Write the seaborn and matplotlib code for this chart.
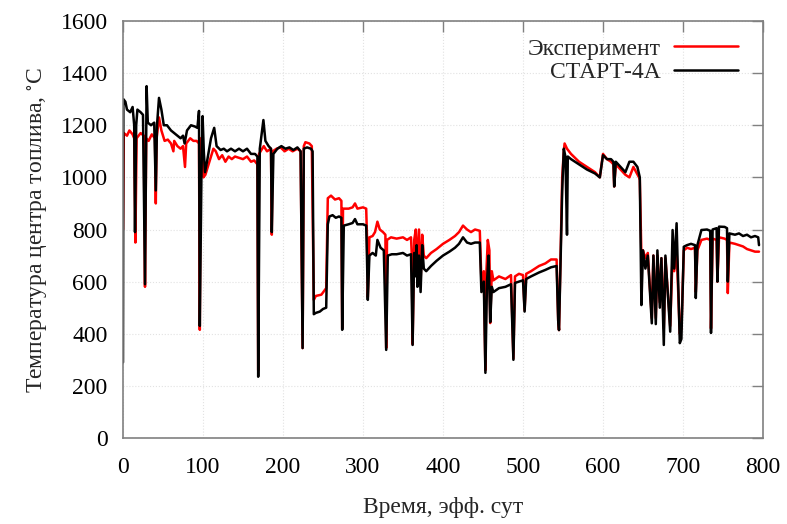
import matplotlib
matplotlib.use("Agg")
import matplotlib.pyplot as plt
import seaborn as sns
import pandas as pd

# ---- data ----
exp_t = [0, 1, 5, 8, 12, 14, 15.5, 17, 22, 26, 27.5, 29, 32, 36, 40, 41, 42, 45, 48, 52, 56, 60, 63, 64, 68,
         72, 75, 77.5, 79, 84, 88, 92, 95, 96, 97, 99, 100.5, 103, 107, 110, 113, 116, 120, 124, 128, 132, 136,
         140, 145, 150, 155, 160, 164, 168, 169, 170, 176, 180, 185, 186, 187, 192, 197, 202, 207, 212, 218,
         222, 224.5, 226, 228, 233, 236, 238.5, 241, 248, 254, 256, 260, 265, 270, 273, 274, 275, 282, 287,
         290, 293, 300, 304, 305, 306, 308, 312, 315, 318, 321, 325, 328, 329, 330, 335, 342, 350, 355, 360,
         361, 362, 364, 366, 368, 370, 372, 374, 376, 379, 385, 392, 400, 408, 415, 420, 425, 430, 435, 440,
         446, 448, 451, 453, 454, 456, 458, 459, 461, 463, 470, 478, 485, 488, 490, 495, 500, 502, 504, 510,
         520, 528, 535, 542, 544, 545, 549, 551, 552, 555, 560, 570, 580, 590, 596, 600, 605, 610, 613, 614,
         616, 622, 628, 633, 638, 645, 646, 648, 650, 653, 656, 661, 663, 666, 668, 671, 673, 676, 678, 684,
         687, 689, 692, 696, 698, 701, 705, 710, 715, 716, 718, 723, 730, 734, 735, 737, 742, 743, 745, 752,
         755, 756, 758, 765, 770, 775, 780, 785, 790, 795]
exp_v = [800, 1170, 1160, 1180, 1165, 1150, 750, 1150, 1170, 1160, 580, 1150, 1140, 1165, 1150, 900, 1150, 1230,
         1180, 1140, 1145, 1130, 1100, 1140, 1120, 1110, 1120, 1040, 1130, 1150, 1140, 1140, 1130, 415, 1150,
         1100, 1000, 1010, 1050, 1080, 1110, 1100, 1070, 1085, 1060, 1080, 1070, 1080, 1075, 1070, 1080, 1060,
         1065, 1050, 260, 1090, 1120, 1100, 1110, 780, 1100, 1110, 1115, 1100, 1110, 1100, 1110, 1100, 345,
         1120, 1135, 1130, 1120, 530, 545, 550, 575, 920, 930, 915, 920, 910, 420, 880, 880, 885, 900, 880,
         885, 880, 770, 540, 770, 775, 790, 830, 800, 790, 780, 345, 760, 770, 765, 770, 760, 770, 700, 360,
         760, 800, 650, 800, 600, 780, 700, 690, 710, 725, 745, 760, 775, 790, 815, 800, 790, 800, 795, 600,
         640, 260, 620, 760, 720, 441, 640, 605, 620, 610, 625, 305, 620, 630, 625, 490, 630, 640, 660, 670,
         685, 685, 450, 414, 1000, 1100, 1130, 1110, 1090, 1060, 1040, 1020, 1000, 1090, 1070, 1060, 1050,
         965, 1050, 1030, 1010, 1000, 1040, 1000, 990, 700, 720, 690, 710, 460, 700, 460, 700, 520, 690, 420,
         690, 430, 700, 640, 720, 400, 420, 720, 730, 725, 730, 560, 720, 760, 765, 760, 420, 765, 760, 600,
         770, 765, 760, 556, 750, 745, 740, 735, 725, 720, 715, 715]

start_t = [0, 0.5, 3, 5, 9, 12, 14, 15, 16.5, 18, 22, 25, 27.5, 29.5, 31, 35, 39, 41, 42.5, 45, 48, 51, 55, 60,
           64, 68, 72, 75, 77, 80, 85, 90, 93, 95, 96, 98, 99.5, 101, 102.5, 105, 110, 114, 117, 122, 126, 130,
           135, 140, 145, 150, 155, 160, 165, 168, 169, 171, 175.5, 178, 182, 185, 186, 188, 193, 198, 203, 208,
           213, 218, 222, 224.5, 226, 230, 235, 237, 238.5, 241, 246, 250, 254, 256, 258, 262, 266, 270, 273,
           274, 276, 282, 287, 290, 293, 300, 304, 305, 306, 308, 312, 316, 318, 322, 326, 329, 331, 336, 342,
           350, 355, 360, 362, 364, 365, 367, 368, 370, 372, 374, 376, 379, 385, 392, 400, 408, 415, 420, 425,
           430, 435, 440, 446, 448, 451, 453, 455, 457, 459, 461, 463, 470, 478, 485, 488, 490, 495, 500, 502,
           504, 510, 520, 528, 535, 542, 544, 545, 549, 551, 553, 555, 556, 560, 570, 580, 590, 596, 600, 605,
           610, 613, 614, 616, 622, 628, 633, 638, 643, 646, 648, 650, 653, 656, 661, 663, 666, 668, 671, 673,
           676, 678, 684, 687, 689, 692, 696, 698, 701, 705, 710, 715, 716, 718, 723, 730, 734, 735, 737, 742,
           743, 745, 752, 755, 756, 758, 765, 770, 775, 780, 785, 790, 794, 795]
start_v = [290, 1300, 1290, 1260, 1250, 1270, 1200, 790, 1200, 1260, 1250, 1240, 590, 1350, 1210, 1200, 1210,
           950, 1200, 1305, 1260, 1200, 1200, 1180, 1170, 1160, 1150, 1160, 1130, 1180, 1200, 1195, 1190, 1255,
           430, 1000, 1235, 1100, 1020, 1060, 1150, 1190, 1120, 1105, 1110, 1100, 1110, 1100, 1110, 1100, 1110,
           1090, 1090, 1080, 235, 1110, 1220, 1140, 1120, 1110, 790, 1090, 1110, 1120, 1110, 1115, 1105, 1115,
           1100, 345, 1110, 1115, 1110, 1100, 475, 480, 485, 495, 500, 820, 850, 855, 845, 850, 845, 415, 815,
           820, 825, 840, 820, 820, 815, 690, 530, 700, 710, 700, 760, 730, 720, 338, 700, 705, 705, 710, 700,
           705, 357, 710, 620, 740, 580, 700, 560, 740, 650, 640, 660, 680, 700, 715, 730, 745, 770, 750, 745,
           750, 750, 560, 600, 250, 600, 700, 445, 580, 560, 575, 580, 590, 300, 595, 600, 605, 485, 610, 620,
           635, 645, 655, 660, 450, 414, 950, 1110, 1080, 780, 1080, 1070, 1050, 1030, 1015, 1000, 1085, 1070,
           1070, 1060, 965, 1060, 1040, 1020, 1060, 1060, 1040, 1000, 510, 720, 650, 700, 440, 700, 437, 720,
           500, 690, 357, 700, 408, 798, 650, 824, 364, 380, 734, 740, 745, 740, 537, 740, 798, 800, 795, 403,
           800, 805, 600, 811, 810, 805, 600, 785, 780, 785, 775, 780, 770, 775, 770, 740]

series_names = ["Эксперимент", "СТАРТ-4А"]
x_ticks = [0, 100, 200, 300, 400, 500, 600, 700, 800]
y_ticks = [0, 200, 400, 600, 800, 1000, 1200, 1400, 1600]

df = pd.concat([
    pd.DataFrame({"t": exp_t, "T": exp_v, "s": series_names[0]}),
    pd.DataFrame({"t": start_t, "T": start_v, "s": series_names[1]}),
], ignore_index=True)

sns.set_theme(style="white")
plt.rcParams["font.family"] = ["Liberation Serif", "DejaVu Serif"]
plt.rcParams["mathtext.fontset"] = "stix"

fig = plt.figure(figsize=(7.87, 5.24), dpi=100)
ax = fig.add_axes([123 / 787, 86 / 524, 640 / 787, 417 / 524])

sns.lineplot(data=df, x="t", y="T", hue="s", hue_order=series_names,
             palette={series_names[0]: "#ff0000", series_names[1]: "#000000"},
             estimator=None, sort=False, linewidth=1.8, ax=ax, legend=True)

ax.set_xlim(0, 800)
ax.set_ylim(0, 1600)
ax.set_xticks(x_ticks)
ax.set_yticks(y_ticks)
ax.tick_params(direction="in", length=8, width=1, colors="#808080", labelcolor="black",
               labelsize=17, top=True, right=True)
ax.tick_params(axis="x", pad=14)
ax.tick_params(axis="y", pad=11)
for sp in ax.spines.values():
    sp.set_color("#808080")
    sp.set_linewidth(1.2)
ax.grid(True, color="#e2e2e2", linestyle=":", linewidth=0.8)
ax.set_xlabel("Время, эфф. сут", fontsize=17, labelpad=13)
ax.set_ylabel("Температура центра топлива, $^{\\circ}$C", fontsize=17, labelpad=7)

leg = ax.legend(loc="upper right", bbox_to_anchor=(0.994, 1.01), frameon=False, fontsize=17,
                markerfirst=False, handlelength=2.7, handletextpad=0.55, labelspacing=0.1)
for t in leg.get_texts():
    t.set_ha("right")

fig.savefig("out.png", dpi=100)
